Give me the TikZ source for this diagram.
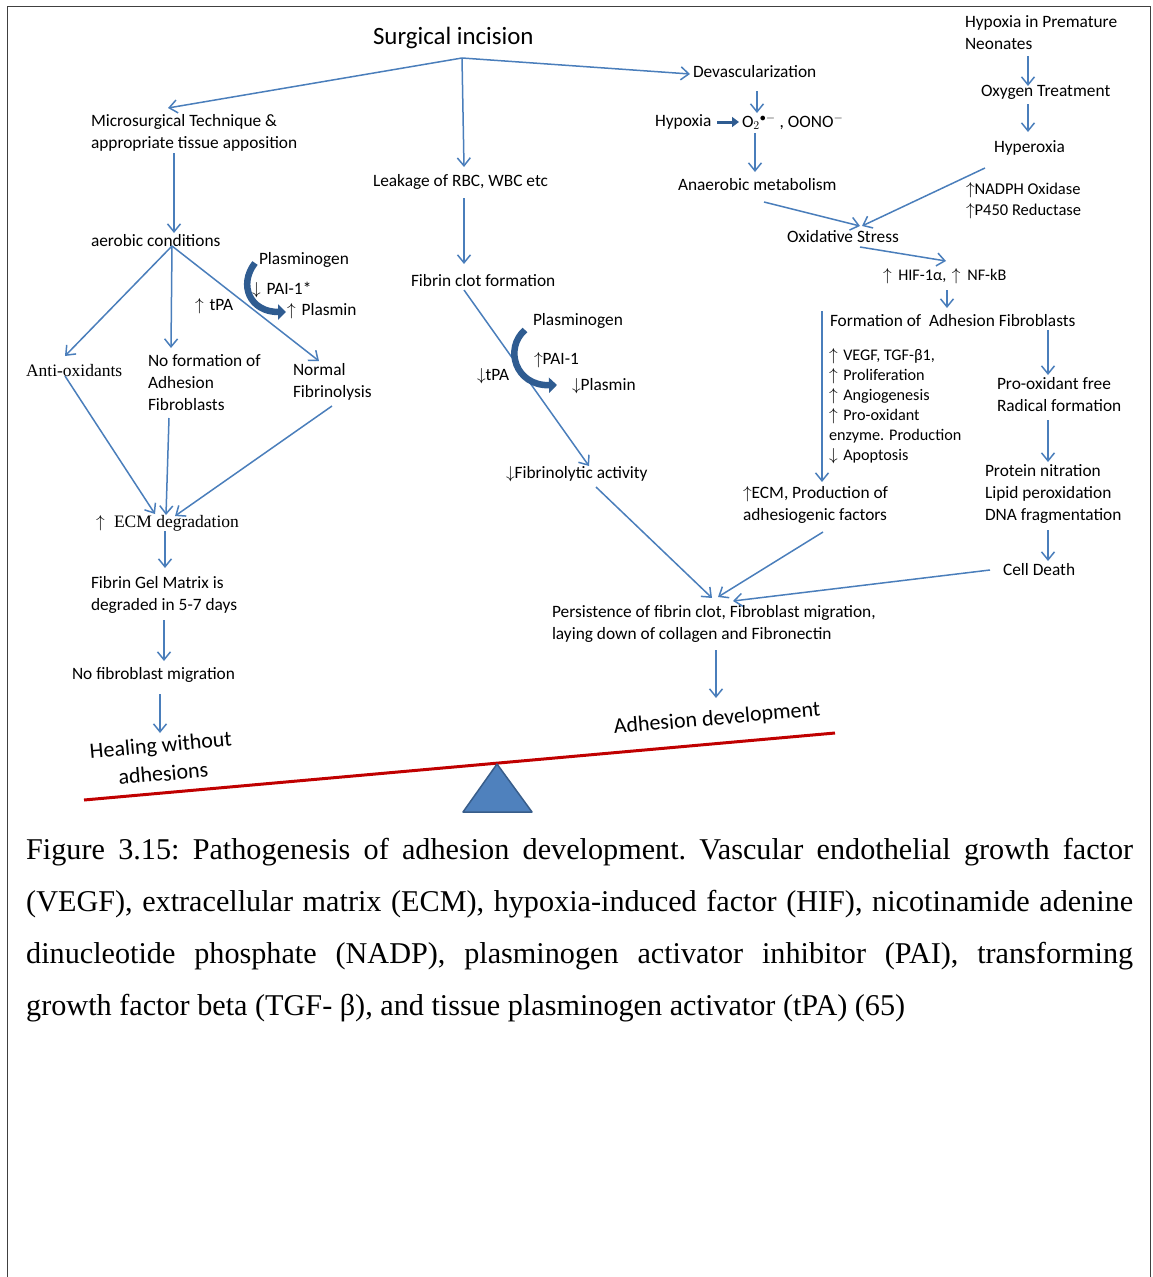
\documentclass[tikz,border=0pt]{standalone}
\usepackage{fontspec}
\setmainfont{Carlito}
\newfontfamily\capfont{Liberation Serif}
\usetikzlibrary{arrows.meta,calc}
\definecolor{ablue}{RGB}{74,126,187}
\definecolor{dblue}{RGB}{47,92,145}
\definecolor{sred}{RGB}{192,0,0}
\definecolor{tfill}{RGB}{79,129,189}
\definecolor{tedge}{RGB}{56,93,138}
\newcommand{\upa}{$\uparrow$}
\newcommand{\dna}{$\downarrow$}
\begin{document}
\begin{tikzpicture}[x=1pt,y=-1pt,
 txt/.style={inner sep=0pt, outer sep=0pt, anchor=west, align=left, font=\fontsize{17.35}{22}\selectfont},
 sm/.style={txt, font=\fontsize{16.2}{20}\selectfont},
 ser/.style={txt, font=\capfont\fontsize{17.5}{22}\selectfont},
 big/.style={inner sep=0pt, anchor=center, align=center, rotate=5, font=\fontsize{22}{27}\selectfont},
 arr/.style={draw=ablue, line width=1.5pt, -{Straight Barb[length=8pt,width=13pt]}},
 curv/.style={draw=dblue, line width=6.5pt, -{Triangle[length=8pt,width=15pt]}},
]
\useasboundingbox (0,0) rectangle (1152,1277);
\draw[line width=1.6pt, black!75] (7.5,1290) -- (7.5,6.5) -- (1150.5,6.5) -- (1150.5,1290);

% ---------- nodes ----------
\node[txt, font=\fontsize{24.9}{28}\selectfont] (surg) at (373,38) {Surgical incision};
\node[txt] (micro) at (91,133) {Microsurgical Technique \&\\appropriate tissue apposition};
\node[txt] (leak) at (373,182) {Leakage of RBC, WBC etc};
\node[txt] (devas) at (693,72) {Devascularization};
\node[txt] (neo) at (965,33) {Hypoxia in Premature\\Neonates};
\node[txt] (oxy) at (981,92) {Oxygen Treatment};
\node[txt] (hyper) at (994,148) {Hyperoxia};
\node[txt] (hypo) at (655,122) {Hypoxia};
\node[txt] (o2) at (742,122) {O$_2{}^{\bullet-}$ , OONO$^{-}$};
\node[txt] (anaer) at (678,185) {Anaerobic metabolism};
\node[sm, font=\fontsize{16.5}{21}\selectfont] (nadph) at (966,200.5) {\upa NADPH Oxidase\\\upa P450 Reductase};
\node[sm] (hif) at (883,276) {\upa\hspace{3pt} HIF-1α,\hspace{2pt} \upa\hspace{3pt} NF-kB};
\node[txt] (oxs) at (787,237) {Oxidative Stress};
\node[txt] (form) at (830,321) {Formation of\ \ Adhesion Fibroblasts};
\node[sm] (list) at (829,406) {\upa\hspace{2pt} VEGF, TGF-β1,\\\upa\hspace{2pt} Proliferation\\\upa\hspace{2pt} Angiogenesis\\\upa\hspace{2pt} Pro-oxidant\\enzyme. Production\\\dna\hspace{2pt} Apoptosis};
\node[txt] (prof) at (997,395) {Pro-oxidant free\\Radical formation};
\node[txt] (prot) at (985,494) {Protein nitration\\Lipid peroxidation\\DNA fragmentation};
\node[txt] (death) at (1003,570) {Cell Death};
\node[txt] (ecmp) at (743,505) {\upa ECM, Production of\\adhesiogenic factors};
\node[txt] (pers) at (552,624) {Persistence of fibrin clot, Fibroblast migration,\\laying down of collagen and Fibronectin};
\node[big] (adh) at (717,719) {Adhesion development};
\node[txt] (clot) at (411,281) {Fibrin clot formation};
\node[txt] (plg2) at (533,321) {Plasminogen};
\node[txt] (pai2) at (534,360) {\upa PAI-1};
\node[txt] (tpa2) at (477,376) {\dna tPA};
\node[txt] (pls2) at (572,386) {\dna Plasmin};
\node[txt] (fib) at (506,474) {\dna Fibrinolytic activity};
\node[txt] (aer) at (91,241) {aerobic conditions};
\node[txt] (plg1) at (259,260) {Plasminogen};
\node[txt] (pai1) at (252,290) {\dna\hspace{2pt} PAI-1*};
\node[txt] (tpa1) at (195,306) {\upa\hspace{2pt} tPA};
\node[txt] (pls1) at (287,311) {\upa\hspace{2pt} Plasmin};
\node[ser] (anti) at (26,371) {Anti-oxidants};
\node[txt] (nof) at (148,383) {No formation of\\Adhesion\\Fibroblasts};
\node[txt] (norm) at (293,382) {Normal\\Fibrinolysis};
\node[ser] (ecmd) at (96,523) {\upa\hspace{5pt} ECM degradation};
\node[txt] (gel) at (91,594.5) {Fibrin Gel Matrix is\\degraded in 5-7 days};
\node[txt] (nofm) at (72,675) {No fibroblast migration};
\node[big, font=\fontsize{22}{29}\selectfont] (heal) at (162,759) {Healing without\\adhesions};

% ---------- junctions ----------
\coordinate (sj) at ($(surg.west)+(89,20)$);
\coordinate (aj) at ($(aer.west)+(81,5)$);

% ---------- connectors ----------
\draw[arr] (sj) -- ($(micro.west)+(77,-25)$);
\draw[arr] (sj) -- ($(leak.west)+(91,-15)$);
\draw[arr] (sj) -- ($(devas.west)+(-3,2)$);
\draw[arr] ($(micro.west)+(83,20)$) -- ($(aer.west)+(83,-8)$);
\draw[arr] (aj) -- ($(anti.west)+(39,-15)$);
\draw[arr] (aj) -- ($(nof.west)+(23,-35)$);
\draw[arr] (aj) -- ($(norm.west)+(26,-21)$);
\draw[arr] ($(anti.west)+(39,5)$) -- ($(ecmd.west)+(59,-9)$);
\draw[arr] ($(nof.west)+(21,35)$) -- ($(ecmd.west)+(70,-8)$);
\draw[arr] ($(norm.west)+(39,24)$) -- ($(ecmd.west)+(79,-7)$);
\draw[arr] ($(ecmd.west)+(69,8)$) -- ($(gel.west)+(74,-26.5)$);
\draw[arr] ($(gel.west)+(73,25.5)$) -- ($(nofm.west)+(92,-14)$);
\draw[arr] ($(nofm.west)+(88,19)$) -- ($(heal.center)+(-2,-26)$);
\draw[arr] ($(leak.west)+(91,16)$) -- ($(clot.west)+(53,-17)$);
\draw[arr] ($(clot.west)+(53,9)$) -- ($(fib.west)+(83,-8)$);
\draw[arr] ($(fib.west)+(90,13)$) -- ($(pers.west)+(160,-26)$);
\draw[arr] ($(ecmp.west)+(80,27)$) -- ($(pers.west)+(166,-27)$);
\draw[arr] ($(death.west)+(-13,0)$) -- ($(pers.west)+(181,-23)$);
\draw[arr] ($(pers.west)+(164,26)$) -- ($(adh.center)+(-1,-21)$);
\draw[arr] ($(devas.west)+(64,19)$) -- ($(o2.west)+(15,-9)$);
\draw[draw=dblue, line width=3pt, -{Triangle[length=7pt,width=10pt]}] ($(hypo.west)+(62,0)$) -- ($(o2.west)+(-3,0)$);
\draw[arr] ($(o2.west)+(13,11)$) -- ($(anaer.west)+(77,-13)$);
\draw[arr] ($(anaer.west)+(86,17)$) -- ($(oxs.west)+(73,-11)$);
\draw[arr] ($(hyper.west)+(-9,20)$) -- ($(oxs.west)+(75,-11)$);
\draw[arr] ($(neo.west)+(63,23)$) -- ($(oxy.west)+(47,-6)$);
\draw[arr] ($(oxy.west)+(47,12)$) -- ($(hyper.west)+(34,-16)$);
\draw[arr] ($(oxs.west)+(73,10)$) -- ($(hif.west)+(63,-15)$);
\draw[arr] ($(hif.west)+(64,14)$) -- ($(form.west)+(117,-13)$);
\draw[arr] ($(form.west)+(-8,-10)$) -- ($(ecmp.west)+(79,-23)$);
\draw[arr] ($(form.west)+(218,9)$) -- ($(prof.west)+(51,-20)$);
\draw[arr] ($(prof.west)+(51,25)$) -- ($(prot.west)+(63,-32)$);
\draw[arr] ($(prot.west)+(63,36)$) -- ($(death.west)+(45,-9)$);

% ---------- curved block arrows ----------
\draw[curv] ($(plg1.west)+(-4,3)$) .. controls (238,285) and (250,312) .. ($(pls1.west)+(-1,1)$);
\draw[curv] ($(plg2.west)+(-8,9)$) .. controls (504,348) and (515,386) .. ($(pls2.west)+(-15,-1)$);

% ---------- seesaw ----------
\draw[sred, line width=3pt] (84,800) -- (835,733);
\filldraw[fill=tfill, draw=tedge, line width=1.5pt, line join=round] (497,764) -- (532,812) -- (463,812) -- cycle;

% ---------- caption ----------
\node[inner sep=0pt, anchor=base west, text width=1107pt, align=justify,
      font=\capfont\fontsize{30.2}{52}\selectfont\frenchspacing] (cap) at (26,859)
{Figure 3.15: Pathogenesis of adhesion development. Vascular endothelial growth factor\linebreak
(VEGF), extracellular matrix (ECM), hypoxia-induced factor (HIF), nicotinamide adenine\linebreak
dinucleotide phosphate (NADP), plasminogen activator inhibitor (PAI), transforming\linebreak
growth factor beta (TGF- β), and tissue plasminogen activator (tPA) (65)};
\end{tikzpicture}
\end{document}
